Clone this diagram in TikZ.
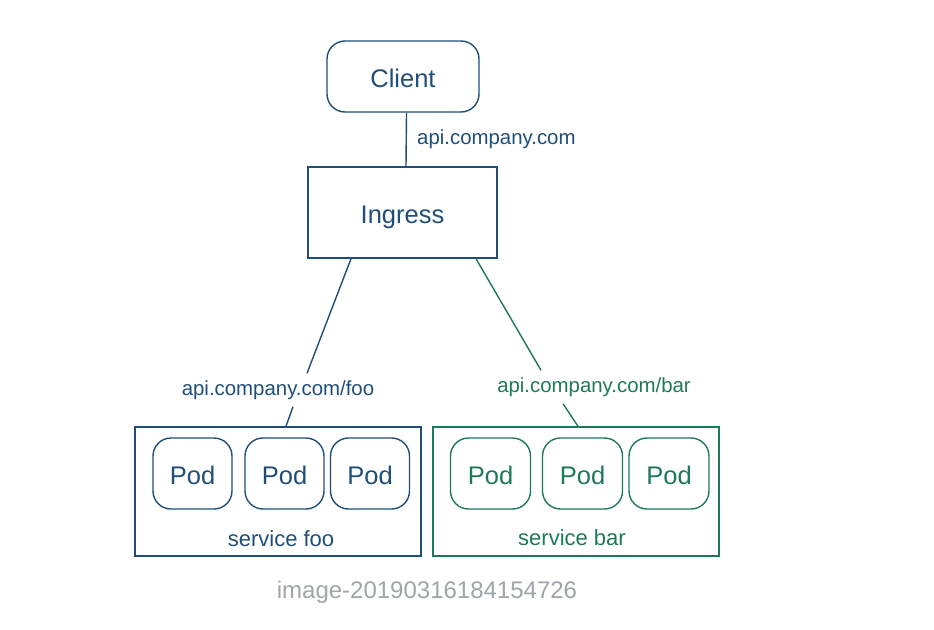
\documentclass[tikz,border=0pt]{standalone}
\usepackage{fontspec}
\setmainfont{Liberation Sans}
\definecolor{kblue}{RGB}{31,78,121}
\definecolor{kgreen}{RGB}{30,122,86}
\definecolor{capgrey}{RGB}{160,165,172}
\tikzset{
  roundbox/.style={draw, rounded corners=18pt, line width=1.4pt, inner sep=0pt},
  plainbox/.style={draw, line width=1.4pt, inner sep=0pt},
  link/.style={line width=1.4pt},
  urltext/.style={font=\fontsize{20.4}{24}\selectfont, inner xsep=1pt, inner ysep=7pt},
  bigtext/.style={font=\fontsize{25.5}{30}\selectfont, text height=22pt, text depth=0pt},
  svctext/.style={font=\fontsize{22}{26}\selectfont}
}
\begin{document}
\begin{tikzpicture}[x=1pt,y=-1pt]
\useasboundingbox (0,0) rectangle (934,629);
% client and ingress
\node[roundbox, kblue, bigtext, minimum width=152pt, minimum height=71pt] (client) at (403,76.5) {Client};
\node[plainbox, kblue, bigtext, minimum width=189pt, minimum height=91pt] (ingress) at (402.5,212.5) {Ingress};
\draw[link, kblue] ([xshift=3.5pt]client.south) -- ([xshift=3.5pt]ingress.north);
\node[urltext, kblue, anchor=west] (rooturl) at (416,139) {api.company.com};
% services
\node[plainbox, kblue, minimum width=286pt, minimum height=129pt] (svcfoo) at (278,491.5) {};
\node[plainbox, kgreen, minimum width=286pt, minimum height=129pt] (svcbar) at (576,491.5) {};
\foreach \x [count=\i] in {192.5,284.5,370}
  \node[roundbox, kblue, bigtext, minimum width=79pt, minimum height=71pt] (foopod\i) at (\x,473.5) {Pod};
\foreach \x [count=\i] in {490.5,582.5,669}
  \node[roundbox, kgreen, bigtext, minimum width=80pt, minimum height=71pt] (barpod\i) at (\x,473.5) {Pod};
\node[kblue, svctext] (foolabel) at (281,539) {service foo};
\node[kgreen, svctext] (barlabel) at (572,537.5) {service bar};
% routes
\node[urltext, kblue] (foourl) at (278,390) {api.company.com/foo};
\node[urltext, kgreen] (barurl) at (594,387) {api.company.com/bar};
\draw[link, kblue] ([xshift=-51.5pt]ingress.south) -- ([xshift=29pt]foourl.north);
\draw[link, kblue] ([xshift=15pt]foourl.south) -- ([xshift=8pt]svcfoo.north);
\draw[link, kgreen] ([xshift=73.5pt]ingress.south) -- ([xshift=-53pt]barurl.north);
\draw[link, kgreen] ([xshift=-31pt]barurl.south) -- ([xshift=2pt]svcbar.north);
% caption
\node[capgrey, font=\fontsize{24}{28}\selectfont] (caption) at (427,592) {image-20190316184154726};
\end{tikzpicture}
\end{document}
